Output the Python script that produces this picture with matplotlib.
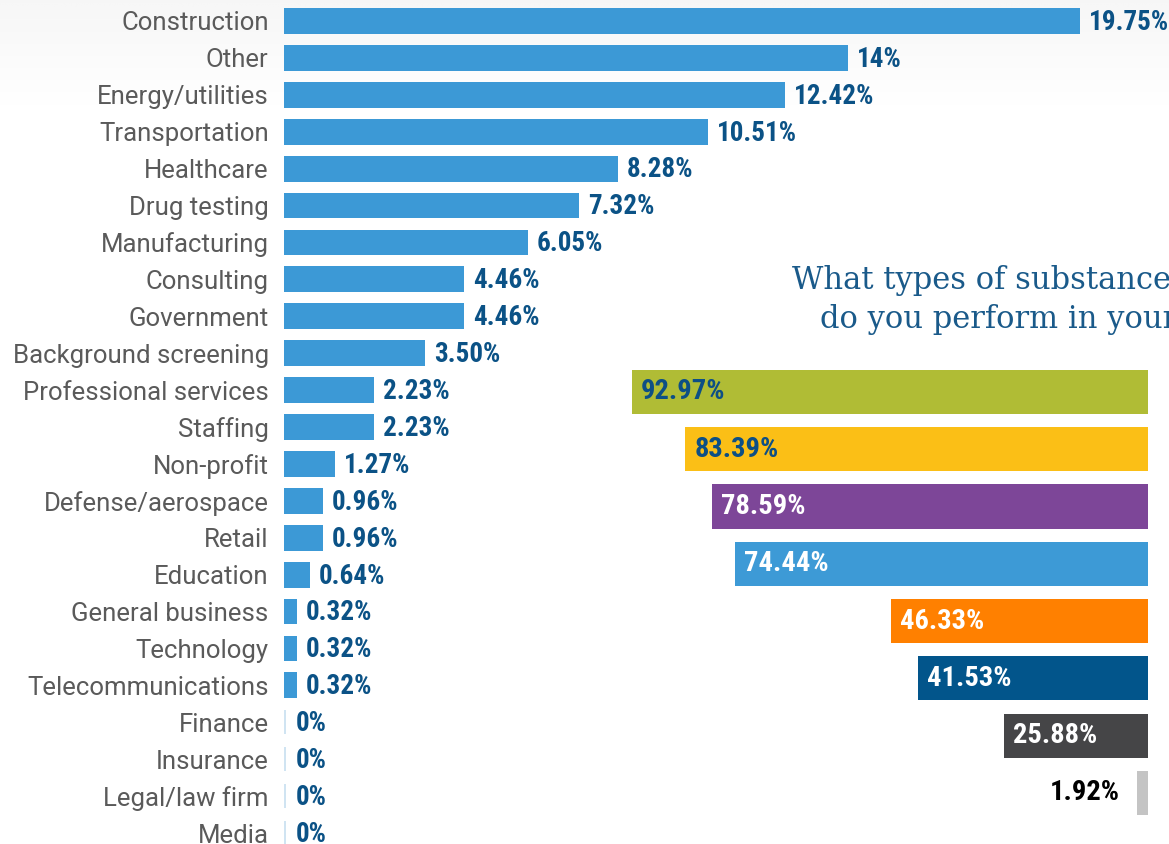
import numpy as np
import matplotlib
matplotlib.use("Agg")
from matplotlib import pyplot as plt

# industries (left chart)
industries = ["Construction", "Other", "Energy/utilities", "Transportation", "Healthcare",
              "Drug testing", "Manufacturing", "Consulting", "Government",
              "Background screening", "Professional services", "Staffing", "Non-profit",
              "Defense/aerospace", "Retail", "Education", "General business", "Technology",
              "Telecommunications", "Finance", "Insurance", "Legal/law firm", "Media"]
industry_pct = [19.75, 14, 12.42, 10.51, 8.28, 7.32, 6.05, 4.46, 4.46, 3.50, 2.23, 2.23,
                1.27, 0.96, 0.96, 0.64, 0.32, 0.32, 0.32, 0, 0, 0, 0]
industry_lbl = ["19.75%", "14%", "12.42%", "10.51%", "8.28%", "7.32%", "6.05%", "4.46%",
                "4.46%", "3.50%", "2.23%", "2.23%", "1.27%", "0.96%", "0.96%", "0.64%",
                "0.32%", "0.32%", "0.32%", "0%", "0%", "0%", "0%"]

# substance test types (right chart, labels cut off in the source)
test_pct = [92.97, 83.39, 78.59, 74.44, 46.33, 41.53, 25.88, 1.92]
test_colors = ["#b0bc35", "#fbbf16", "#7d4698", "#3d9ad6", "#ff8000", "#02558b", "#454547", "#c4c4c4"]
test_txt_colors = ["#0d4f85", "#0d4f85", "white", "white", "white", "white", "white", "black"]

W, H = 1169, 844
fig = plt.figure(figsize=(W / 100, H / 100), dpi=100)
fig.patch.set_facecolor("white")

cond = ["Roboto Condensed", "Liberation Sans Narrow", "Roboto"]

# faint background strip at the top
bg = fig.add_axes([0, 0, 1, 1], zorder=-5)
grad = np.linspace(1, 0, 200)[:, None] * np.ones((1, 10))
bg.imshow(grad, extent=[0, 1, 1 - 110 / H, 1], aspect="auto", cmap="Greys", vmin=0, vmax=14,
          interpolation="bilinear")
bg.set_xlim(0, 1)
bg.set_ylim(0, 1)
bg.axis("off")

# ---- left chart ----
ax = fig.add_axes([284 / W, (H - 851.5) / H, 806 / W, 849 / H])
y = np.arange(len(industries))
ax.barh(y, industry_pct, height=0.7, color="#3c99d6")
for i, v in enumerate(industry_pct):
    if v == 0:
        ax.vlines(0.03, i - 0.33, i + 0.33, color="#c7dff0", lw=1.2)
    ax.annotate(industry_lbl[i], (v, i), xytext=(8.5 if v == 0 else 6.5, -1),
                textcoords="offset points", va="center", ha="left",
                fontsize=19.5, fontweight="bold", color="#0b5286", family=cond,
                annotation_clip=False)
ax.set_yticks(y)
ax.set_yticklabels(industries, fontsize=18.5, color="#5a5a5a",
                   family=["Roboto", "DejaVu Sans"])
ax.tick_params(axis="y", length=0, pad=11)
ax.set_xlim(0, 20)
ax.set_ylim(len(industries) - 0.5, -0.5)
ax.set_xticks([])
for s in ax.spines.values():
    s.set_visible(False)
ax.patch.set_alpha(0)

# ---- right chart ----
ax2 = fig.add_axes([593 / W, (H - 821.6) / H, 555 / W, 458.4 / H])
y2 = np.arange(len(test_pct))
ax2.barh(y2, test_pct, height=0.77, color=test_colors)
for i, v in enumerate(test_pct):
    if v < 5:
        ax2.annotate(f"{v:.2f}%", (v, i), xytext=(-13, 0), textcoords="offset points",
                     va="center", ha="right", fontsize=20.5, fontweight="bold",
                     color=test_txt_colors[i], family=cond)
    else:
        ax2.annotate(f"{v:.2f}%", (v, i), xytext=(6.5, 0), textcoords="offset points",
                     va="center", ha="left", fontsize=20.5, fontweight="bold",
                     color=test_txt_colors[i], family=cond)
ax2.set_xlim(100, 0)
ax2.set_ylim(len(test_pct) - 0.5, -0.5)
ax2.axis("off")

fig.text(792 / W, 1 - 281 / H, "What types of substance", fontsize=22, color="#1a5a8a",
         family=["DejaVu Serif"], ha="left", va="center")
fig.text(820 / W, 1 - 320 / H, "do you perform in your", fontsize=22, color="#1a5a8a",
         family=["DejaVu Serif"], ha="left", va="center")

fig.savefig("out.png", dpi=100)
